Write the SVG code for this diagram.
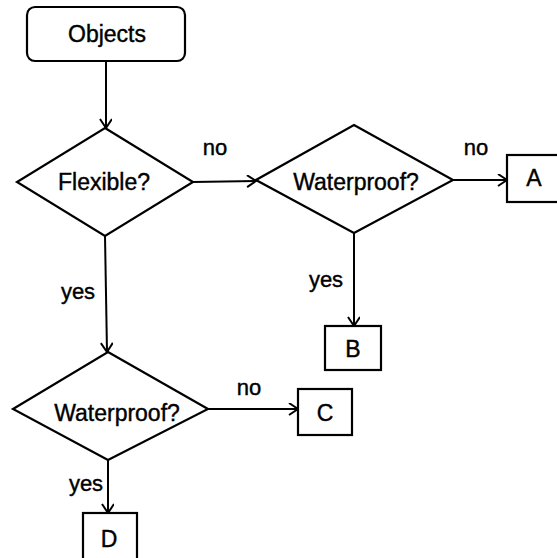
<svg xmlns="http://www.w3.org/2000/svg" width="557" height="558" viewBox="0 0 557 558">
<style>
.shape{fill:#fff;stroke:#000;stroke-width:2.2}
.ln{fill:none;stroke:#000;stroke-width:2}
text{font-family:"Liberation Sans",Arial,sans-serif;font-size:23px;fill:#000;text-anchor:middle;stroke:#000;stroke-width:0.4}
.lbl{font-size:22px}
</style>
<defs>
<marker id="arr" markerUnits="userSpaceOnUse" markerWidth="14" markerHeight="14" refX="10" refY="6" orient="auto">
<path d="M1,0 L10,6 L1,12" fill="none" stroke="#000" stroke-width="2"/>
</marker>
</defs>
<rect width="557" height="558" fill="#fff"/>
<g id="connectors">
<line class="ln" x1="106" y1="61" x2="106" y2="128" marker-end="url(#arr)"/>
<line class="ln" x1="193" y1="182" x2="256" y2="181" marker-end="url(#arr)"/>
<line class="ln" x1="453" y1="180" x2="507" y2="180" marker-end="url(#arr)"/>
<line class="ln" x1="354" y1="233" x2="354" y2="326" marker-end="url(#arr)"/>
<line class="ln" x1="105" y1="236" x2="107" y2="352" marker-end="url(#arr)"/>
<line class="ln" x1="208" y1="409" x2="298" y2="409" marker-end="url(#arr)"/>
<line class="ln" x1="108" y1="460" x2="108" y2="513" marker-end="url(#arr)"/>
<text class="lbl" x="215" y="155">no</text>
<text class="lbl" x="476" y="155">no</text>
<text class="lbl" x="326" y="287">yes</text>
<text class="lbl" x="78" y="299">yes</text>
<text class="lbl" x="249" y="395">no</text>
<text class="lbl" x="86" y="491">yes</text>
</g>
<g id="objects">
<rect class="shape" x="27" y="7" width="158" height="54" rx="8"/>
<text x="107" y="42">Objects</text>
</g>
<g id="flexible">
<polygon class="shape" points="105,128 193,182 105,236 17,182"/>
<text x="104" y="190">Flexible?</text>
</g>
<g id="waterproof1">
<polygon class="shape" points="354,125 453,180 354,233 256,180"/>
<text x="356" y="190">Waterproof?</text>
</g>
<g id="a">
<rect class="shape" x="507" y="155" width="60" height="47"/>
<text x="534" y="186">A</text>
</g>
<g id="b">
<rect class="shape" x="325" y="326" width="56" height="44"/>
<text x="353" y="357">B</text>
</g>
<g id="waterproof2">
<polygon class="shape" points="108,352 208,409 108,460 13,409"/>
<text x="117" y="421">Waterproof?</text>
</g>
<g id="c">
<rect class="shape" x="298" y="389" width="54" height="46"/>
<text x="325" y="421">C</text>
</g>
<g id="d">
<rect class="shape" x="83" y="513" width="54" height="50"/>
<text x="109" y="547">D</text>
</g>
</svg>
